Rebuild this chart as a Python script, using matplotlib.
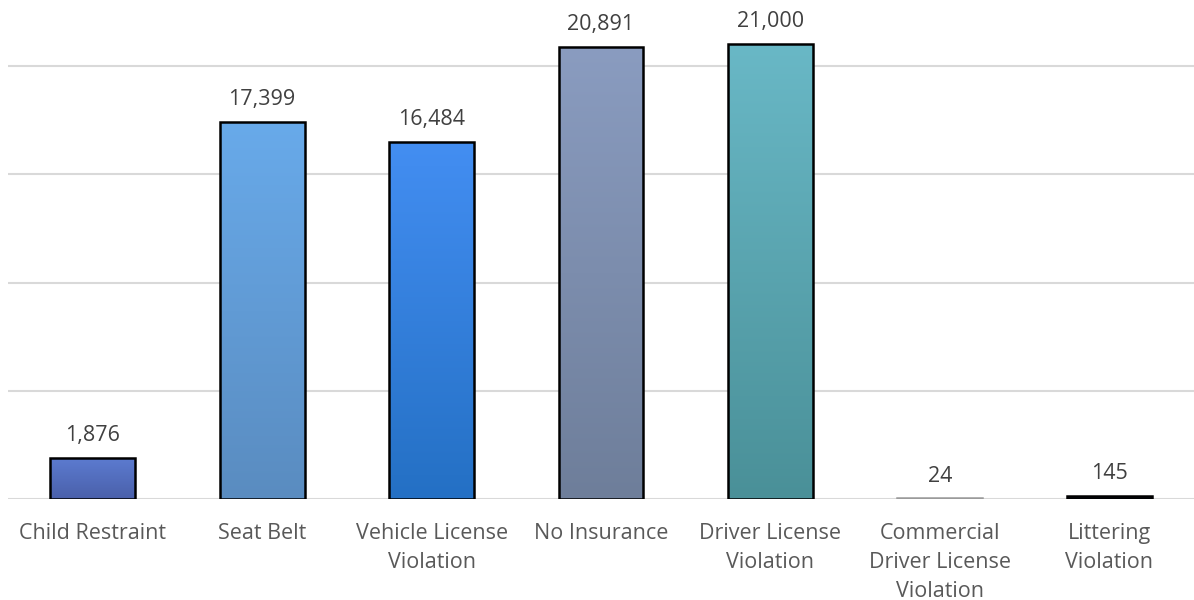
import numpy as np
import matplotlib
matplotlib.use("Agg")
import matplotlib.pyplot as plt
from matplotlib.colors import LinearSegmentedColormap

plt.rcParams['font.family'] = ['Open Sans', 'DejaVu Sans']

categories = ["Child Restraint", "Seat Belt", "Vehicle License\nViolation",
              "No Insurance", "Driver License\nViolation",
              "Commercial\nDriver License\nViolation", "Littering\nViolation"]
values = [1876, 17399, 16484, 20891, 21000, 24, 145]
value_labels = ["1,876", "17,399", "16,484", "20,891", "21,000", "24", "145"]

# top / bottom gradient colours per bar
top_colors = ["#5c7bd0", "#68aaea", "#438ef2", "#8a9cc0", "#69b8c6", "#bfbfbf", "#1a2a4a"]
bottom_colors = ["#4a60aa", "#5a8cc0", "#2470c4", "#6e7e9a", "#4a9098", "#a0a0a0", "#000000"]
edge_colors = ["black", "black", "black", "black", "black", "#9a9a9a", "black"]

fig = plt.figure(figsize=(11.94, 6), dpi=100)
ax = fig.add_axes([8 / 1194, 101 / 600, 1186 / 1194, 499 / 600])

x = np.arange(len(categories))
bars = ax.bar(x, values, width=0.5, facecolor="none",
              edgecolor=edge_colors, linewidth=1.8, zorder=3)

# gradient fill clipped to each bar
for b, c1, c2 in zip(bars, top_colors, bottom_colors):
    cmap = LinearSegmentedColormap.from_list("g", [c2, c1])
    grad = np.linspace(0, 1, 256).reshape(-1, 1)
    bx, by = b.get_x(), b.get_y()
    w, h = b.get_width(), b.get_height()
    im = ax.imshow(grad, cmap=cmap, origin="lower", aspect="auto",
                   extent=[bx, bx + w, by, by + max(h, 1)], zorder=2)
    im.set_clip_path(b)

ax.set_xlim(-0.5, len(categories) - 0.5)
ax.set_ylim(0, 23050)

for xi, v, lab in zip(x, values, value_labels):
    ax.text(xi, v + 550, lab, ha="center", va="bottom", fontsize=15.5,
            color="#404040")

ax.set_yticks([0, 5000, 10000, 15000, 20000])
ax.set_yticklabels([])
ax.yaxis.grid(True, color="#d9d9d9", linewidth=1.5, zorder=0)
ax.set_axisbelow(True)
ax.tick_params(axis="both", length=0)
ax.set_xticks(x)
ax.set_xticklabels(categories, fontsize=15.5, color="#595959", linespacing=1.5)
ax.tick_params(axis="x", pad=17)
for s in ax.spines.values():
    s.set_visible(False)

fig.savefig("out.png", dpi=100)
